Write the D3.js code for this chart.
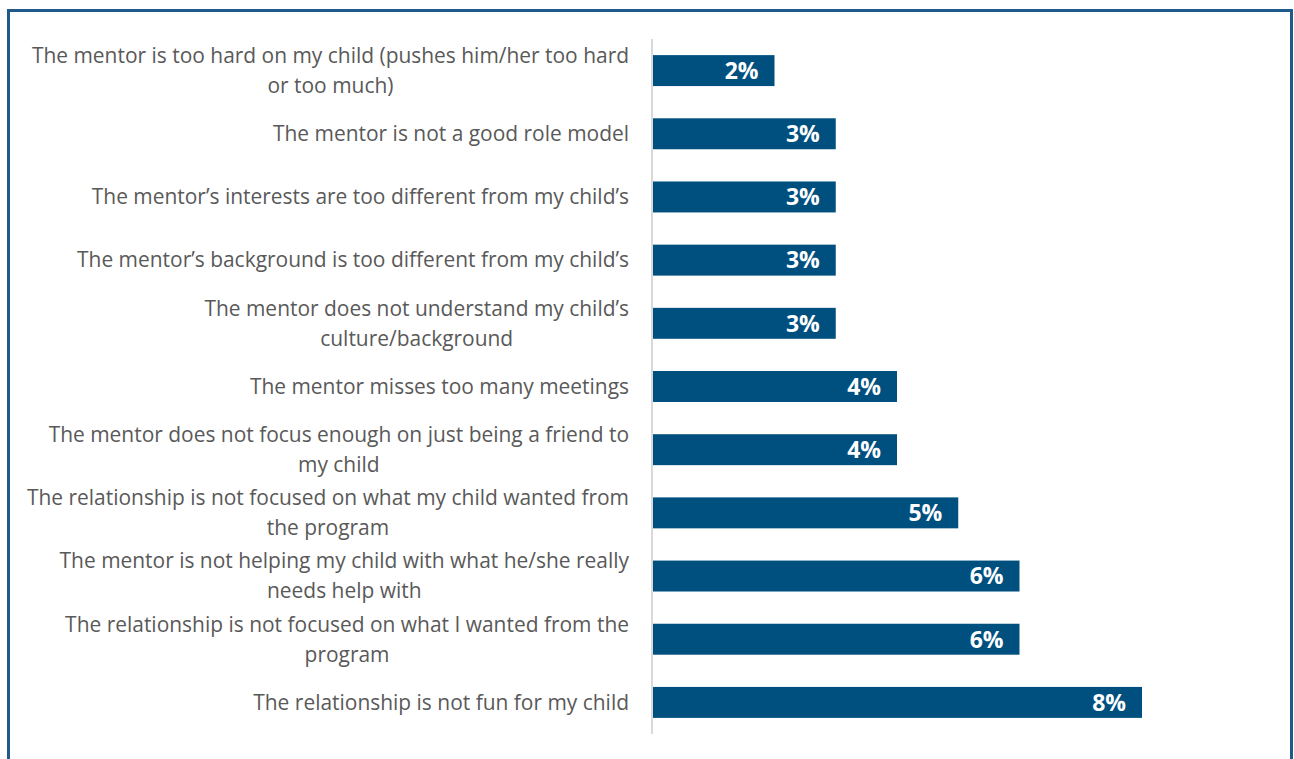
<!DOCTYPE html>
<html>
<head>
<meta charset="utf-8">
<script src="https://cdn.jsdelivr.net/npm/d3@7"></script>
<style>
  html, body { margin: 0; padding: 0; background: #fff; }
  svg { display: block; }
</style>
</head>
<body>
<svg id="chart" width="1294" height="759"></svg>
<script>
const categories = [
  "The mentor is too hard on my child (pushes him/her too hard\nor too much)",
  "The mentor is not a good role model",
  "The mentor’s interests are too different from my child’s",
  "The mentor’s background is too different from my child’s",
  "The mentor does not understand my child’s\nculture/background",
  "The mentor misses too many meetings",
  "The mentor does not focus enough on just being a friend to\nmy child",
  "The relationship is not focused on what my child wanted from\nthe program",
  "The mentor is not helping my child with what he/she really\nneeds help with",
  "The relationship is not focused on what I wanted from the\nprogram",
  "The relationship is not fun for my child"
];
const values = [2, 3, 3, 3, 3, 4, 4, 5, 6, 6, 8];
const valueLabels = ["2%", "3%", "3%", "3%", "3%", "4%", "4%", "5%", "6%", "6%", "8%"];

const svg = d3.select("#chart");

// frame
svg.append("rect")
  .attr("x", 8.5).attr("y", 10.5)
  .attr("width", 1283).attr("height", 760)
  .attr("fill", "none")
  .attr("stroke", "#1F5A8A")
  .attr("stroke-width", 3);

const x = d3.scaleLinear().domain([0, 8]).range([652, 1142]);
const y = d3.scaleBand().domain(categories).range([39, 734])
  .paddingInner(0.51).paddingOuter(0.255);

// bars
svg.append("g").selectAll("rect")
  .data(values)
  .join("rect")
  .attr("x", x(0) + 1)
  .attr("y", (d, i) => y(categories[i]))
  .attr("width", d => x(d) - x(0) - 1)
  .attr("height", y.bandwidth())
  .attr("fill", "#00507F");

// value labels
svg.append("g").selectAll("text")
  .data(values)
  .join("text")
  .attr("x", d => x(d) - 16)
  .attr("y", (d, i) => y(categories[i]) + y.bandwidth() / 2)
  .attr("dy", "0.36em")
  .attr("text-anchor", "end")
  .attr("fill", "#ffffff")
  .attr("font-family", "'Open Sans', sans-serif")
  .attr("font-weight", "bold")
  .attr("font-size", 23)
  .text((d, i) => valueLabels[i]);

// category axis
const yAxis = d3.axisLeft(y).tickSize(0).tickPadding(0).tickFormat("");
const axisG = svg.append("g").attr("transform", `translate(${x(0)},0)`).call(yAxis);
axisG.select(".domain").attr("stroke", "#D9D9D9").attr("stroke-width", 2)
  .attr("d", `M0,39V734`);

const lineH = 30;
const rightEdge = 629;
const labelG = svg.append("g");
categories.forEach(c => {
  const lines = c.split("\n");
  const cy = y(c) + y.bandwidth() / 2;
  const t = labelG.append("text")
    .attr("text-anchor", "middle")
    .attr("fill", "#595959")
    .attr("font-family", "'Open Sans', sans-serif")
    .attr("font-size", 20.95);
  const spans = lines.map((ln, k) => t.append("tspan")
      .attr("y", cy + (k - (lines.length - 1) / 2) * lineH)
      .attr("dy", "0.35em")
      .text(ln));
  const w = d3.max(spans, s => s.node().getComputedTextLength());
  spans.forEach(s => s.attr("x", rightEdge - w / 2));
});
</script>
</body>
</html>
